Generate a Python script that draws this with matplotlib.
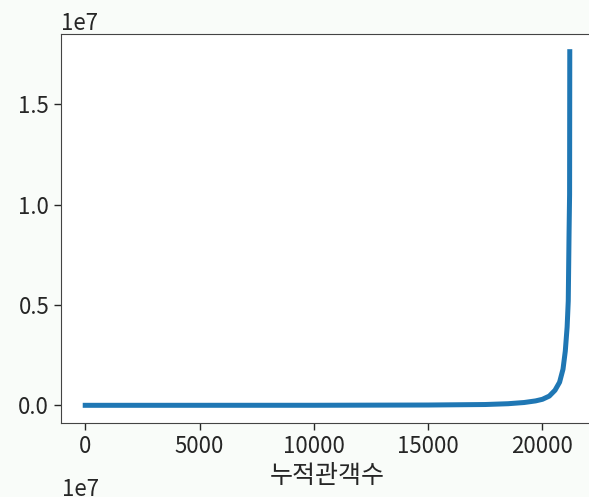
import numpy as np
import matplotlib
matplotlib.use("Agg")
import matplotlib.pyplot as plt

plt.rcParams['font.family'] = ['Noto Sans CJK KR', 'DejaVu Sans']
plt.rcParams['axes.unicode_minus'] = False

# sorted cumulative audience (rank -> audience)
rank = [0, 10000, 15000, 17500, 18500, 19200, 19700, 20000, 20300, 20550,
        20750, 20900, 21000, 21080, 21130, 21165, 21188, 21196]
audience = [0, 2000, 15000, 40000, 80000, 140000, 220000, 300000, 460000, 750000,
            1150000, 1800000, 2700000, 3900000, 5200000, 8600000, 10500000, 17613682]
x_label = "누적관객수"

fig = plt.figure(figsize=(5.89, 4.97), dpi=100, facecolor='#f9fcf9')
# axes is cropped on the right like the original screenshot
ax = fig.add_axes([61/589, 1 - 423/497, (594 - 61)/589, (423 - 34)/497])
ax.plot(rank, audience, lw=3.6, color='#1f77b4')

ax.set_xticks([0, 5000, 10000, 15000, 20000])
ax.set_yticks([0, 0.5e7, 1.0e7, 1.5e7])
ax.tick_params(axis='both', labelsize=16, length=5, width=1, colors='#262626')
for s in ax.spines.values():
    s.set_color('#444444')
ax.yaxis.get_offset_text().set_fontsize(16)
ax.set_xlabel(x_label, fontsize=18, labelpad=4, color='#262626')

# offset text of the next subplot, visible at the bottom of the crop
fig.text(62/589, 1 - 478/497, "1e7", fontsize=16, ha='left', va='top', color='#262626')

fig.savefig("out.png", dpi=100, facecolor=fig.get_facecolor())
